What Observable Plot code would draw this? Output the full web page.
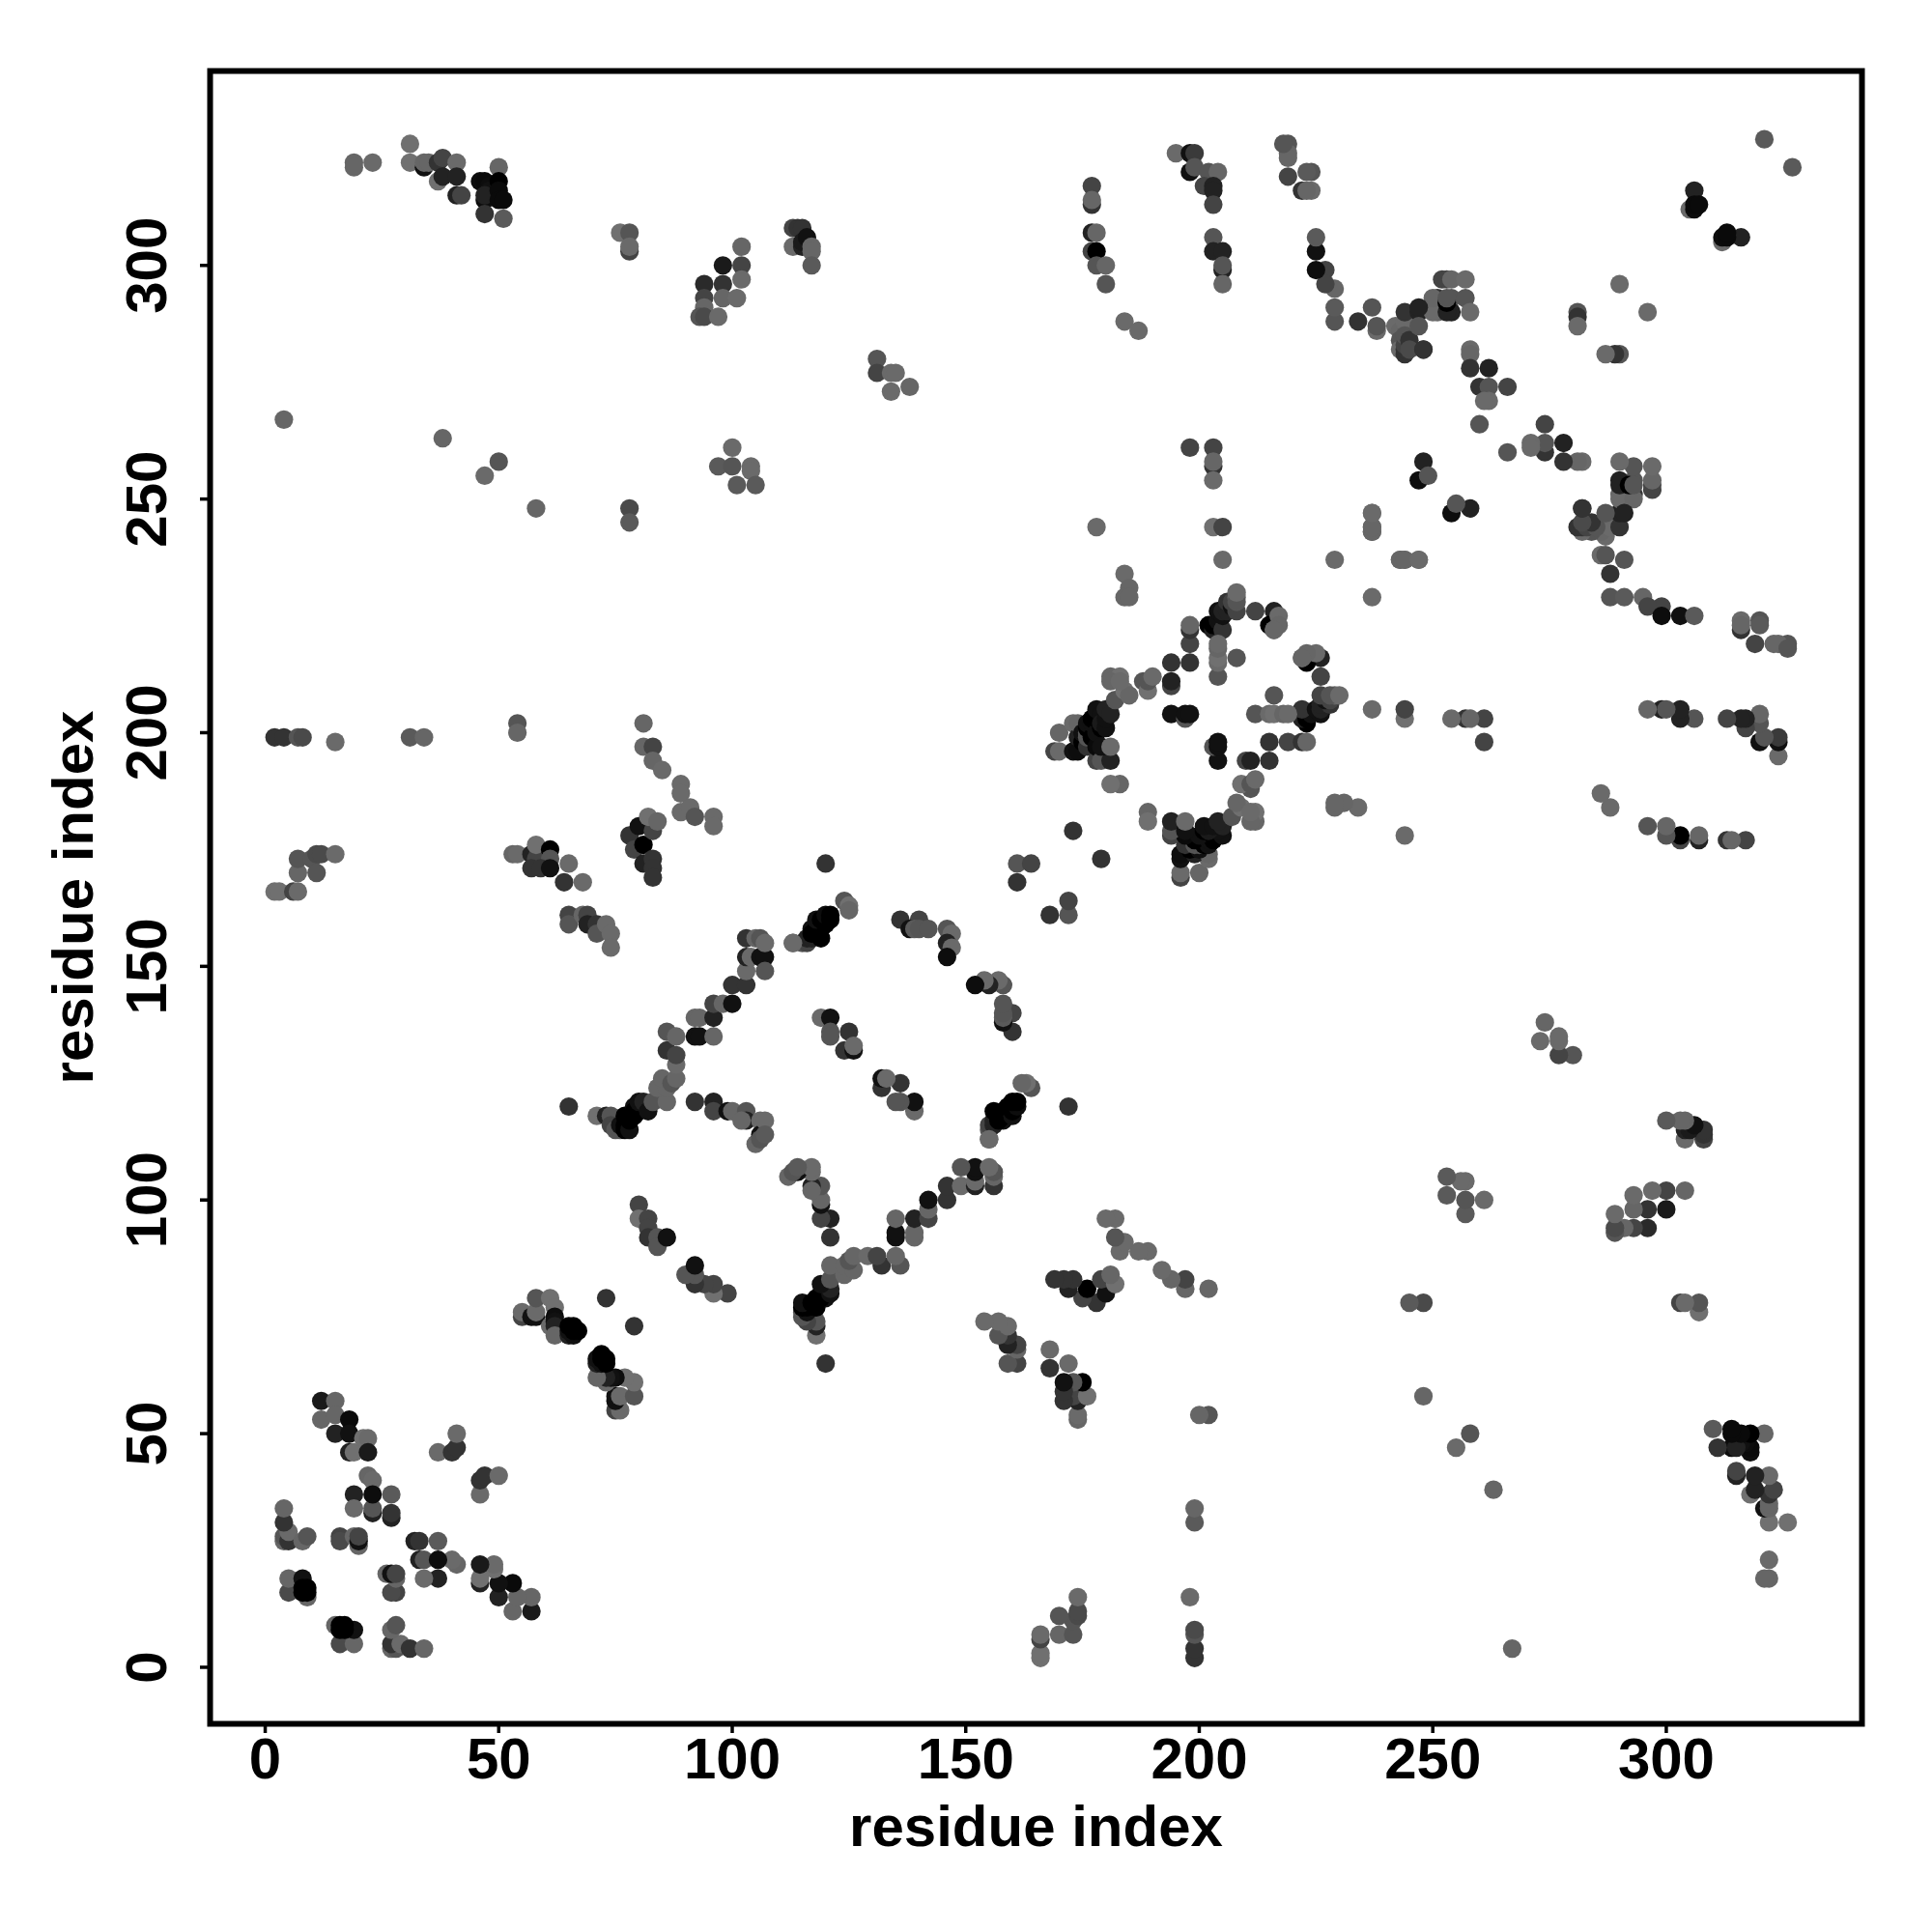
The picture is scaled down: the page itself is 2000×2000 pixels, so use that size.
<!DOCTYPE html>
<html><head><meta charset="utf-8">
<style>html,body{margin:0;padding:0;background:#fff}svg{display:block}</style>
<script src="https://cdn.jsdelivr.net/npm/d3@7"></script>
<script src="https://cdn.jsdelivr.net/npm/@observablehq/plot@0.6"></script>
</head><body><div id="chart"></div>
<script>
// contacts: [residue i, residue j, grey level of the point] (the map is symmetric)
const blockNterm = [
[4,27,102],[4,28,85],[5,27,51],[5,29,106],[4,31,51],[4,34,102],[8,27,102],[9,28,85],[5,16,74],[5,19,102],[8,19,17],[9,15,102],[8,16,0],[9,16,0],[8,17,0],[9,17,0],
[16,28,68],[16,27,74],[19,28,102],[20,26,102],[20,27,17],[20,28,68],
[12,57,26],[15,57,102],[12,53,102],[15,50,34],[15,54,102],[18,53,10],[18,50,17],[18,46,34],[19,46,112],[21,49,112],[22,49,106],[22,46,26],[22,41,102],[23,40,106],
[19,37,34],[19,34,106],[23,33,34],[23,34,85],[23,37,13],[27,32,34],[27,33,51],[27,37,90],
[37,46,106],[40,46,51],[41,47,51],[41,50,106]
];
const strandN2 = [
[55,75,68],[55,76,106],[57,75,17],[58,75,17],[58,76,106],[58,79,85],[61,79,112],[62,77,112],[61,73,106],[62,75,13],[62,74,17],[62,73,34],[62,71,102],[65,71,34],[66,71,17],[65,72,17],[66,72,0],[67,72,0],[65,73,0],[66,73,0],[73,79,51],
[80,99,68],[80,96,112],[82,96,68],[82,94,68],[82,92,51],[84,92,85],[84,90,85],[86,92,17]
];
const farRow = [
[2,199,51],[4,199,51],[7,199,85],[8,199,74],[15,198,106],[31,199,90],[34,199,102],[54,202,85],[54,200,102],
[81,202,102],[81,197,102],[83,197,68],[83,194,102],[85,192,106],[89,189,106],[89,187,106],[89,183,106],[91,184,106],[92,182,85],[96,182,106],[96,180,106],
[78,178,51],[79,175,68],[80,180,17],[81,176,0],[81,172,34],[83,173,51],[83,171,51],[83,169,51],[83,179,68],[82,182,112],[84,181,102],
[2,166,112],[3,166,112],[6,166,68],[7,166,106],[7,170,102],[7,173,85],[10,173,85],[11,170,85],[11,174,74],[12,174,74],[15,174,106],
[53,174,102],[54,174,106],[57,174,34],[58,173,68],[58,176,112],[61,175,0],[61,173,85],[57,171,51],[59,171,51],[61,171,17],[65,172,106],[64,168,51],[68,168,106],
[65,161,68],[65,159,85],[68,161,102],[69,161,68],[69,159,34],[71,159,51],[71,157,85],[73,159,106],[74,157,106],[74,154,106]
];
const ringOneArcA = [
[65,120,51],[71,118,112],[73,118,34],[74,118,85],[74,116,68],[75,115,85],[76,115,85],[76,116,17],[77,118,0],[77,115,0],[77,116,0],[78,115,17],[78,117,0],[78,118,0],[79,120,17],[79,118,0],[79,119,0],[80,119,0],[80,121,17],[81,121,34],[82,119,17],[83,121,85],
[86,121,102],[84,124,102],[86,124,102],[85,126,102],[87,125,85],[88,126,102],[88,129,106],[86,132,51],[88,131,68],[86,136,85],[88,135,102],
[92,135,17],[93,135,17],[96,135,102],[92,139,102],[93,139,102],[96,139,34],[96,142,68],[98,142,102],[100,142,17],[100,146,51],[103,146,51],[103,149,106],[103,152,34],[104,152,106],[106,152,17],[107,152,17],[107,149,85],[103,156,51],[105,156,102],[106,156,85],[107,155,106]
];
const ringOneArcB = [
[92,121,51],[96,121,34],[96,119,68],[99,119,17],[100,119,102],[103,119,85],[103,117,34],[102,117,102],[106,117,106],[105,112,102],[106,114,17],[106,113,85],[107,117,106],[107,114,90],
[113,155,106],[115,155,85],[116,155,68],[116,156,34],[117,156,34],[117,158,17],[117,157,0],[119,156,0],[118,157,0],[118,158,0],[119,158,0],[118,160,17],[120,159,0],[119,160,0],[120,160,0],[120,161,13],[121,160,0],[121,161,0],[124,164,85],[125,163,112],[125,162,102],[120,172,51],
[136,160,51],[140,160,68],[138,158,17],[139,158,90],[140,158,85],[142,158,85],[146,158,85],[147,157,106],[146,155,34],[147,154,106],[146,152,13],
[119,139,106],[121,139,17],[121,136,85],[121,135,85],[125,136,51],[124,132,51],[126,132,17],[126,133,106],
[113,155,106]
];
const strandMid = [
[161,168,51],[161,172,85],[164,172,68],[173,179,51]
];
const ringTwoArcs = [
[169,196,68],[170,196,106],[170,200,102],[173,196,17],[173,202,106],[174,196,13],[174,199,34],[174,202,102],[175,198,0],[176,198,0],[175,200,17],[176,197,51],[176,199,85],[176,200,85],[176,201,0],[176,202,17],[177,199,0],[177,202,17],[177,203,0],[178,194,68],[178,197,10],[178,200,17],[178,203,0],[178,204,0],[178,205,17],[179,201,0],[179,204,17],[179,202,26],[180,201,17],[180,203,17],[180,205,34],[181,204,34],[182,207,85],[184,209,112],[185,208,102],[181,212,102],[183,212,112],[181,211,102],[183,211,106],[188,211,85],[189,209,112],[189,211,85],[190,212,106],
[183,189,102],[181,189,112],[179,194,85],[181,194,34],[179,197,17],[181,197,106],
[194,204,17],[197,203,85],[197,204,17],[198,204,17],[194,210,68],[194,211,34],[194,215,51],[198,215,51],[198,219,68],[198,222,51],[198,223,102],
[202,223,0],[203,222,34],[203,223,0],[204,224,17],[204,226,17],[205,222,51],[205,225,17],[205,226,34],[206,226,34],[206,228,51],[207,227,17],[207,228,68],[208,226,68],[208,229,102],[204,212,85],[204,215,106],[204,216,112],[204,218,102],[204,219,106],[208,216,85],[212,226,68],[216,226,34],[215,223,0],[217,225,106],[216,222,106],[217,223,102],[208,228,85],[208,230,106]
];
const farTopLeft = [
[19,322,102],[19,321,102],[23,322,106],[31,326,112],[31,322,112],[34,321,17],[34,322,102],[35,322,102],[37,318,112],[37,322,51],[38,323,68],[38,319,34],[41,322,106],[41,319,34],[41,315,34],[42,315,68],
[46,318,13],[47,318,10],[48,317,13],[48,316,17],[49,315,10],[47,314,13],[47,315,34],[47,311,51],[50,321,102],[50,318,0],[50,316,10],[50,314,10],[51,314,10],[51,310,90],
[76,307,112],[78,307,85],[78,303,68],[78,304,106],
[102,304,102],[102,300,68],[98,300,26],[102,297,106],[98,296,51],[94,296,42],[94,293,68],[98,293,102],[101,293,106],[94,291,102],[93,289,85],[94,289,74],[97,289,106],
[4,267,102],[38,263,102],[50,258,85],[47,255,106],[58,248,102],[78,248,74],[78,245,90],
[100,261,106],[97,257,90],[100,257,85],[104,257,106],[104,256,106],[101,253,90],[105,253,90]
];
const farTopMiddle = [
[113,308,68],[114,308,51],[115,308,51],[113,304,106],[115,304,34],[115,305,26],[116,306,17],[117,304,102],[117,303,102],[117,300,90],
[131,280,85],[131,277,68],[134,277,106],[135,277,106],[134,273,106],[138,274,102],
[177,317,68],[177,313,51],[177,314,102],[177,307,34],[178,307,102],[177,303,68],[178,303,0],[178,300,85],[180,300,102],[180,296,85],[184,288,106],[187,286,106],
[195,324,106],[198,320,17],[198,324,17],[199,324,58],[199,321,85],[202,320,85],[204,320,102],[201,317,68],[203,317,34],[203,316,34],[203,313,68],
[203,306,85],[203,303,34],[205,303,34],[205,299,34],[205,300,85],[205,296,102],
[198,261,68],[203,261,68],[203,257,51],[203,258,102],[203,254,106],
[178,244,106],[203,244,112],[205,244,68],[205,237,106],[184,234,106],[185,231,102],[184,229,102],[185,229,102]
];
const farTopRight = [
[219,326,85],[219,324,102],[224,316,106],[224,320,85],
[234,288,51],[237,291,85],[238,286,106],[238,287,85],[242,287,106],[243,286,102],[244,288,106],[243,284,85],[243,282,106],[244,281,51],[244,282,51],[244,283,68],[244,285,85],[245,284,51],[245,282,74],[248,282,51],[244,290,51],[247,290,34],[247,287,85],
[251,290,102],[251,293,51],[252,297,68],[253,297,68],[254,297,102],[257,297,106],[254,293,85],[257,293,85],[254,290,34],[258,290,106],
[258,282,106],[258,281,102],[258,278,51],[262,278,34],[260,274,51],[262,274,85],[262,271,106],[266,274,68],[260,266,85],[261,271,106],
[248,258,34],[247,254,13],[249,255,85],[250,290,106],[250,293,102],[253,290,34],[253,292,0],[253,293,85],[247,291,34],[248,282,51],
[237,247,106],[237,244,102],[237,243,102],[229,237,106],[243,237,102],[244,237,102],[247,237,106],
[281,290,85],[281,289,51],[281,287,106],[290,296,106],[321,327,90],
[306,316,34],[305,312,106],[306,312,13],[306,313,10],[307,313,10],
[227,299,68],[229,288,85],[229,291,90],[229,295,102],[227,296,68],
[225,299,13],[225,303,17],[225,306,90],[216,222,102],
[222,316,51],[223,316,102],[223,320,90],[219,319,68],[219,323,102],[218,326,85]
];
const tickValues = [0, 50, 100, 150, 200, 250, 300];
const axisTitle = "residue index";

const contacts = [...blockNterm, ...strandN2, ...farRow, ...ringOneArcA, ...ringOneArcB, ...strandMid, ...ringTwoArcs, ...farTopLeft, ...farTopMiddle, ...farTopRight];
const table = contacts.flatMap(([i, j, g]) => [{x: i, y: j, g}, {x: j, y: i, g}]);

const chart = Plot.plot({
  width: 2000, height: 2000,
  marginLeft: 217, marginRight: 73, marginTop: 73, marginBottom: 216,
  style: {fontFamily: '"Liberation Sans", sans-serif', fontWeight: "bold", background: "#fff", color: "#000"},
  x: {domain: [-11.8, 341.9], ticks: tickValues, label: null},
  y: {domain: [-12.1, 341.6], ticks: tickValues, label: null},
  color: {type: "linear", domain: [0, 112], range: ["#000", "#707070"]},
  marks: [
    Plot.dot(table, {x: "x", y: "y", fill: "g", r: 9.6}),
    Plot.frame({stroke: "#000", strokeWidth: 6}),
    Plot.axisX(tickValues, {tickSize: 10, strokeWidth: 3.5, fontSize: 60, tickPadding: 4, label: axisTitle, labelAnchor: "center", labelOffset: 126, labelArrow: "none", tickFormat: d => d}),
    Plot.axisY(tickValues, {tickSize: 10, strokeWidth: 3.5, fontSize: 60, tickPadding: 36, tickRotate: -90, label: axisTitle, labelAnchor: "center", labelOffset: 164, labelArrow: "none", tickFormat: d => d})
  ]
});
document.getElementById("chart").appendChild(chart);
</script></body></html>
